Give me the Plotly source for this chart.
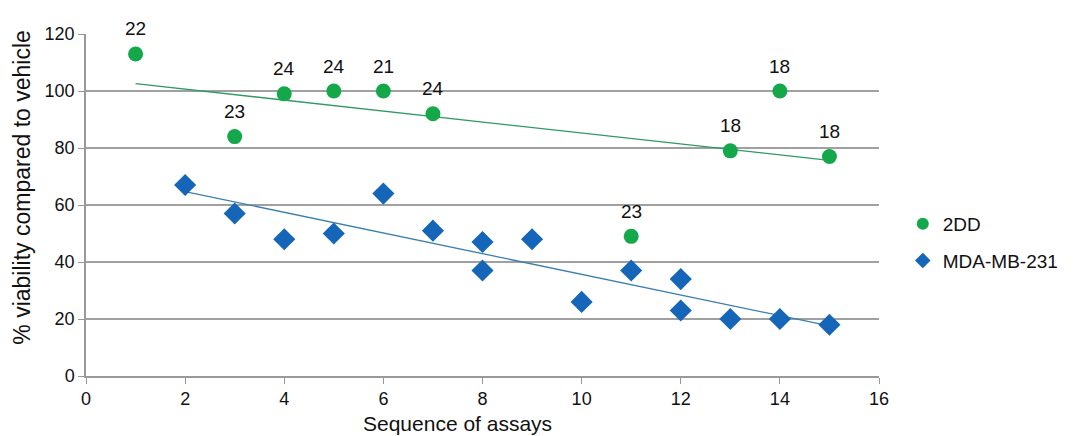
import numpy as np
import plotly.graph_objects as go

# 2DD assays: sequence number, % viability, label shown above each point
dd_x = [1, 3, 4, 5, 6, 7, 11, 13, 14, 15]
dd_y = [113, 84, 99, 100, 100, 92, 49, 79, 100, 77]
dd_labels = ["22", "23", "24", "24", "21", "24", "23", "18", "18", "18"]

# MDA-MB-231 assays
mda_x = [2, 3, 4, 5, 6, 7, 8, 8, 9, 10, 11, 12, 12, 13, 14, 15]
mda_y = [67, 57, 48, 50, 64, 51, 47, 37, 48, 26, 37, 34, 23, 20, 20, 18]

x_ticks = [0, 2, 4, 6, 8, 10, 12, 14, 16]
y_ticks = [0, 20, 40, 60, 80, 100, 120]

GREEN = "#14a84a"
BLUE = "#1565b8"
FONT = "Liberation Sans, Arial, sans-serif"


def linear_trend(xs, ys):
    slope, intercept = np.polyfit(xs, ys, 1)
    x0, x1 = min(xs), max(xs)
    return [x0, x1], [slope * x0 + intercept, slope * x1 + intercept]


fig = go.Figure()

tx, ty = linear_trend(dd_x, dd_y)
fig.add_trace(go.Scatter(x=tx, y=ty, mode="lines", showlegend=False,
                         line=dict(color="#2f9a63", width=1.3), hoverinfo="skip"))
tx, ty = linear_trend(mda_x, mda_y)
fig.add_trace(go.Scatter(x=tx, y=ty, mode="lines", showlegend=False,
                         line=dict(color="#3a7fae", width=1.3), hoverinfo="skip"))

fig.add_trace(go.Scatter(x=dd_x, y=dd_y, mode="markers", name="2DD", legendgroup="a",
                         marker=dict(symbol="circle", size=15, color=GREEN)))
fig.add_trace(go.Scatter(x=mda_x, y=mda_y, mode="markers", name="MDA-MB-231", legendgroup="b",
                         marker=dict(symbol="diamond", size=17, color=BLUE)))

for x, y, t in zip(dd_x, dd_y, dd_labels):
    fig.add_annotation(x=x, y=y, text=t, showarrow=False, yshift=25,
                       font=dict(size=19, color="#111111", family=FONT))

# Axis titles
fig.add_annotation(text="Sequence of assays", xref="paper", yref="paper",
                   x=0.468, y=-0.14, xanchor="center", yanchor="middle",
                   showarrow=False, font=dict(size=21, color="#111111", family=FONT))
fig.add_annotation(text="% viability compared to vehicle", xref="paper", yref="paper",
                   x=-0.081, y=0.55, xanchor="center", yanchor="middle", textangle=-90,
                   showarrow=False, font=dict(size=23, color="#111111", family=FONT))

fig.update_layout(
    width=1079, height=436,
    margin=dict(l=86, r=200, t=34, b=60),
    paper_bgcolor="white", plot_bgcolor="white",
    font=dict(family=FONT, size=18, color="#111111"),
    legend=dict(x=1.03, y=0.5, xanchor="left", yanchor="top",
                font=dict(size=19), itemsizing="constant", tracegroupgap=9),
    showlegend=True,
)
fig.update_xaxes(range=[0, 16], tickvals=x_ticks, showgrid=False,
                 showline=True, linecolor="#999999", linewidth=1.5,
                 ticks="outside", ticklen=6, tickcolor="#999999",
                 zeroline=False, automargin=False)
fig.update_yaxes(range=[0, 120], tickvals=y_ticks, showgrid=True,
                 gridcolor="#a0a0a0", gridwidth=1.5,
                 showline=True, linecolor="#999999", linewidth=1.5,
                 ticks="outside", ticklen=6, tickcolor="#999999",
                 zeroline=False, automargin=False)

fig.write_html("out.html")
